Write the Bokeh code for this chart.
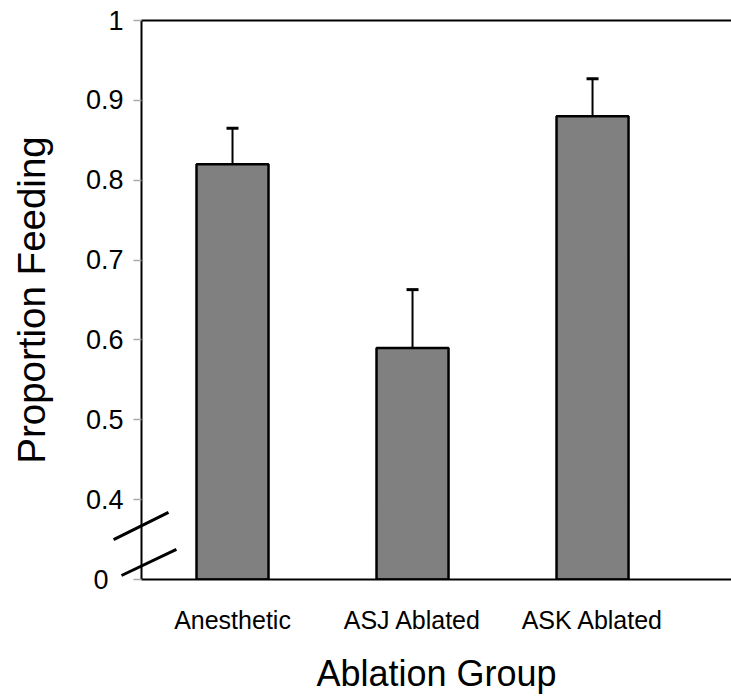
from bokeh.plotting import figure
from bokeh.models import (ColumnDataSource, Range1d, FixedTicker, LinearAxis,
                          Whisker, TeeHead)
from bokeh.embed import file_html
from bokeh.resources import INLINE

groups = ["Anesthetic", "ASJ Ablated", "ASK Ablated"]
proportion = [0.82, 0.59, 0.88]
sem = [0.045, 0.073, 0.047]
y_ticks = [0.3, 0.4, 0.5, 0.6, 0.7, 0.8, 0.9, 1.0]
y_tick_labels = ["0\u00a0\u00a0", "0.4", "0.5", "0.6", "0.7", "0.8", "0.9", "1"]
axis_floor = 0.3   # broken axis: the "0" tick sits at this position

pos = list(range(len(groups)))
src = ColumnDataSource(dict(
    x=pos,
    top=proportion,
    upper=[v + e for v, e in zip(proportion, sem)],
    bottom=[axis_floor] * len(groups),
))

x_start = -0.5056
x_end = 2.772
p = figure(width=731, height=696, output_backend="svg", toolbar_location=None,
           x_range=Range1d(x_start, x_end), y_range=Range1d(axis_floor, 1.0),
           min_border_left=141, min_border_right=0, min_border_top=20,
           min_border_bottom=117)
p.outline_line_color = None
p.grid.visible = False
p.background_fill_color = "white"
p.border_fill_color = "white"

p.vbar(x="x", top="top", bottom="bottom", width=0.4, source=src,
       fill_color="#808080", line_color="black", line_width=2.5)

w = Whisker(base="x", upper="upper", lower="top", source=src,
            upper_head=TeeHead(size=12, line_width=3, line_color="black"),
            lower_head=None, line_width=2, line_color="black", level="glyph")
p.add_layout(w)

# y axis
ya = p.yaxis[0]
ya.ticker = FixedTicker(ticks=y_ticks)
ya.major_label_overrides = {t: l for t, l in zip(y_ticks, y_tick_labels)}
ya.minor_tick_line_color = None
ya.major_tick_in = 0
ya.major_tick_out = 8
ya.major_tick_line_color = "#aaaaaa"
ya.major_tick_line_width = 1.5
ya.axis_line_width = 2
ya.axis_line_color = "black"
ya.major_label_text_font = "Liberation Sans"
ya.major_label_text_font_size = "27px"
ya.major_label_text_color = "black"
ya.major_label_standoff = 10
ya.axis_label = "Proportion Feeding"
ya.axis_label_text_font = "Liberation Sans"
ya.axis_label_text_font_size = "38.5px"
ya.axis_label_text_font_style = "normal"
ya.axis_label_text_color = "black"
ya.axis_label_standoff = 30

# x axis
xa = p.xaxis[0]
xa.ticker = FixedTicker(ticks=pos)
xa.major_label_overrides = {i: g for i, g in zip(pos, groups)}
xa.major_tick_line_color = None
xa.minor_tick_line_color = None
xa.axis_line_width = 2
xa.axis_line_color = "black"
xa.major_label_text_font = "Liberation Sans"
xa.major_label_text_font_size = "25px"
xa.major_label_text_color = "black"
xa.major_label_standoff = 20
xa.axis_label = "Ablation Group"
xa.axis_label_text_font = "Liberation Sans"
xa.axis_label_text_font_size = "36px"
xa.axis_label_text_font_style = "normal"
xa.axis_label_text_color = "black"
xa.axis_label_standoff = 16

# top frame line
top_axis = LinearAxis(ticker=FixedTicker(ticks=[]),
                      major_tick_line_color=None, minor_tick_line_color=None,
                      major_label_text_font_size="1px", axis_line_width=2,
                      axis_line_color="black")
p.add_layout(top_axis, "above")

# axis-break marks (decoration, placed relative to the axis corner)
brk = ColumnDataSource(dict(
    x0=[x_start - 0.155, x_start - 0.111],
    y0=[axis_floor + 0.050, axis_floor + 0.005],
    x1=[x_start + 0.150, x_start + 0.194],
    y1=[axis_floor + 0.084, axis_floor + 0.0376],
))
p.segment(x0="x0", y0="y0", x1="x1", y1="y1", source=brk,
          line_width=3, line_color="black", level="overlay")

open("out.html", "w").write(file_html(p, INLINE))
